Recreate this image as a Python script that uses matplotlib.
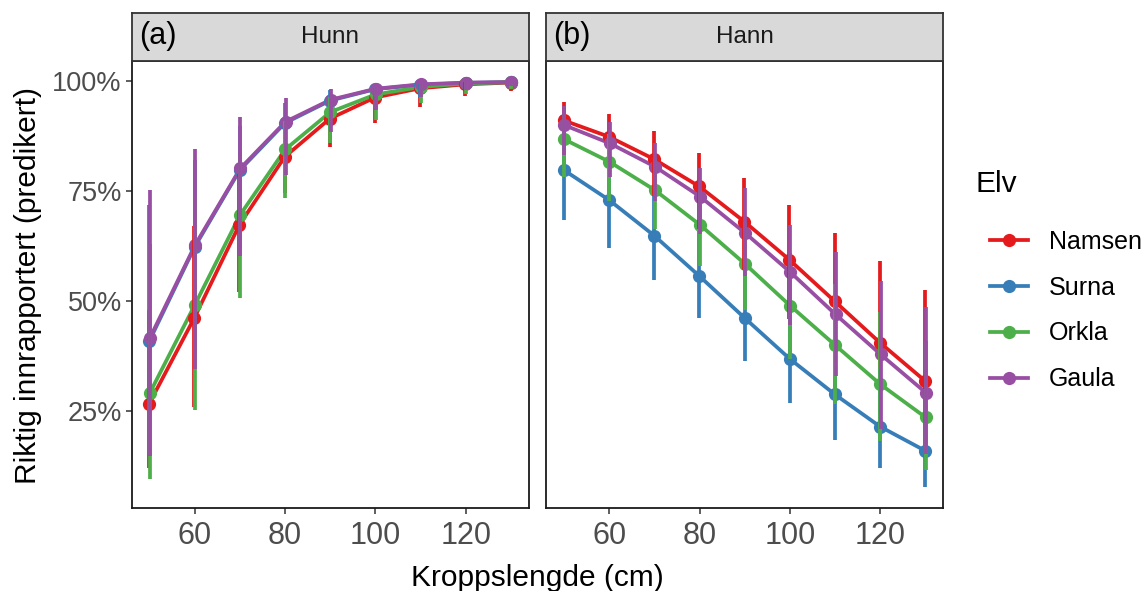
import matplotlib
matplotlib.use("Agg")
import matplotlib.pyplot as plt
from matplotlib.lines import Line2D
import numpy as np

plt.rcParams['font.family'] = ['Liberation Sans', 'DejaVu Sans']

lengde = [50, 60, 70, 80, 90, 100, 110, 120, 130]
elver = ['Namsen', 'Surna', 'Orkla', 'Gaula']
farger = ['#E41A1C', '#377EB8', '#4DAF4A', '#984EA3']

# Hunn (a)
hunn_namsen = [0.267, 0.462, 0.674, 0.828, 0.915, 0.963, 0.984, 0.993, 0.997]
hunn_namsen_lo = [0.12, 0.259, 0.52, 0.745, 0.85, 0.905, 0.942, 0.966, 0.978]
hunn_namsen_hi = [0.48, 0.67, 0.79, 0.89, 0.955, 0.985, 0.994, 0.998, 0.999]
hunn_surna = [0.410, 0.623, 0.798, 0.905, 0.956, 0.982, 0.992, 0.996, 0.998]
hunn_surna_lo = [0.155, 0.379, 0.62, 0.79, 0.89, 0.94, 0.965, 0.98, 0.99]
hunn_surna_hi = [0.719, 0.821, 0.899, 0.95, 0.98, 0.992, 0.997, 0.999, 0.9995]
hunn_orkla = [0.291, 0.492, 0.696, 0.845, 0.930, 0.970, 0.987, 0.995, 0.998]
hunn_orkla_lo = [0.096, 0.252, 0.508, 0.735, 0.86, 0.912, 0.95, 0.97, 0.983]
hunn_orkla_hi = [0.63, 0.74, 0.83, 0.91, 0.965, 0.988, 0.995, 0.998, 0.999]
hunn_gaula = [0.417, 0.628, 0.802, 0.908, 0.958, 0.983, 0.993, 0.997, 0.998]
hunn_gaula_lo = [0.148, 0.347, 0.602, 0.787, 0.885, 0.934, 0.964, 0.98, 0.99]
hunn_gaula_hi = [0.753, 0.847, 0.918, 0.961, 0.983, 0.993, 0.998, 0.999, 0.9995]

# Hann (b)
hann_namsen = [0.911, 0.874, 0.823, 0.761, 0.681, 0.594, 0.500, 0.406, 0.319]
hann_namsen_lo = [0.85, 0.805, 0.74, 0.665, 0.57, 0.46, 0.345, 0.247, 0.17]
hann_namsen_hi = [0.953, 0.925, 0.887, 0.838, 0.78, 0.719, 0.655, 0.591, 0.526]
hann_surna = [0.798, 0.730, 0.649, 0.557, 0.462, 0.369, 0.288, 0.215, 0.160]
hann_surna_lo = [0.685, 0.621, 0.548, 0.462, 0.364, 0.268, 0.185, 0.122, 0.077]
hann_surna_hi = [0.88, 0.815, 0.74, 0.66, 0.565, 0.48, 0.41, 0.35, 0.30]
hann_orkla = [0.868, 0.817, 0.753, 0.674, 0.585, 0.490, 0.400, 0.311, 0.236]
hann_orkla_lo = [0.783, 0.727, 0.664, 0.581, 0.481, 0.369, 0.266, 0.183, 0.117]
hann_orkla_hi = [0.925, 0.88, 0.825, 0.755, 0.68, 0.61, 0.54, 0.475, 0.41]
hann_gaula = [0.900, 0.859, 0.806, 0.738, 0.655, 0.566, 0.470, 0.379, 0.292]
hann_gaula_lo = [0.832, 0.782, 0.727, 0.653, 0.557, 0.445, 0.330, 0.209, 0.153]
hann_gaula_hi = [0.943, 0.908, 0.860, 0.802, 0.758, 0.674, 0.611, 0.547, 0.487]

paneler = [
    ('(a)', 'Hunn',
     [hunn_namsen, hunn_surna, hunn_orkla, hunn_gaula],
     [hunn_namsen_lo, hunn_surna_lo, hunn_orkla_lo, hunn_gaula_lo],
     [hunn_namsen_hi, hunn_surna_hi, hunn_orkla_hi, hunn_gaula_hi]),
    ('(b)', 'Hann',
     [hann_namsen, hann_surna, hann_orkla, hann_gaula],
     [hann_namsen_lo, hann_surna_lo, hann_orkla_lo, hann_gaula_lo],
     [hann_namsen_hi, hann_surna_hi, hann_orkla_hi, hann_gaula_hi]),
]

W, H = 1147, 591
fig = plt.figure(figsize=(W / 100, H / 100), dpi=100)

lefts = [131.5, 546]
pw = 397.5
top, bot = 61, 508
strip_top = 13

dodge = 0.25
offs = [(i - 1.5) * dodge / 4 for i in range(4)]
lw = 2.7
ms = 9.5

for (tag, navn, ys, los, his), left in zip(paneler, lefts):
    ax = fig.add_axes([left / W, 1 - bot / H, pw / W, (bot - top) / H])
    x = np.array(lengde, dtype=float)
    for y, c, o in zip(ys, farger, offs):
        ax.plot(x + o, y, color=c, lw=lw, solid_capstyle='butt', zorder=2)
    for y, c, o in zip(ys, farger, offs):
        ax.plot(x + o, y, 'o', color=c, ms=ms, mew=0, zorder=3)
    for lo, hi, c, o in zip(los, his, farger, offs):
        ax.vlines(x + o, lo, hi, color=c, lw=lw, zorder=4)
    ax.set_xlim(46, 134)
    ax.set_ylim(0.03, 1.046)
    ax.set_xticks([60, 80, 100, 120])
    ax.set_yticks([0.25, 0.5, 0.75, 1.0])
    ax.tick_params(axis='x', labelsize=22, labelcolor='#4D4D4D', color='#333333',
                   length=4, width=1.1, pad=5)
    ax.tick_params(axis='y', labelsize=19.5, labelcolor='#4D4D4D', color='#333333',
                   length=4, width=1.1, pad=3)
    if left == lefts[0]:
        ax.set_yticklabels(['25%', '50%', '75%', '100%'])
    else:
        ax.set_yticklabels([])
        ax.tick_params(axis='y', length=0)
    for s in ax.spines.values():
        s.set_color('#1A1A1A')
        s.set_linewidth(1.3)

    sax = fig.add_axes([left / W, 1 - top / H, pw / W, (top - strip_top) / H])
    sax.set_facecolor('#D9D9D9')
    sax.set_xticks([])
    sax.set_yticks([])
    for s in sax.spines.values():
        s.set_color('#333333')
        s.set_linewidth(1.3)
    sax.text(0.5, 0.5, navn, ha='center', va='center', fontsize=17.5,
             color='#1A1A1A', transform=sax.transAxes)
    sax.text(0.018, 0.52, tag, ha='left', va='center', fontsize=22,
             color='black', transform=sax.transAxes)

fig.text(537 / W, 1 - 578 / H, 'Kroppslengde (cm)', ha='center', va='center',
         fontsize=21.5)
fig.text(28 / W, 1 - 285 / H, 'Riktig innrapportert (predikert)', ha='center',
         va='center', rotation=90, fontsize=21.5)

fig.text(975 / W, 1 - 184 / H, 'Elv', ha='left', va='center', fontsize=21.5)
handles = [Line2D([0], [0], color=c, lw=lw, marker='o', ms=ms, mew=0) for c in farger]
leg = fig.legend(handles, elver, loc='upper left',
                 bbox_to_anchor=(990 / W, 1 - 230 / H), frameon=False,
                 fontsize=18, handlelength=1.5, borderpad=0,
                 labelspacing=0.87, handletextpad=0.85, borderaxespad=0)

fig.savefig('out.png', dpi=100)
